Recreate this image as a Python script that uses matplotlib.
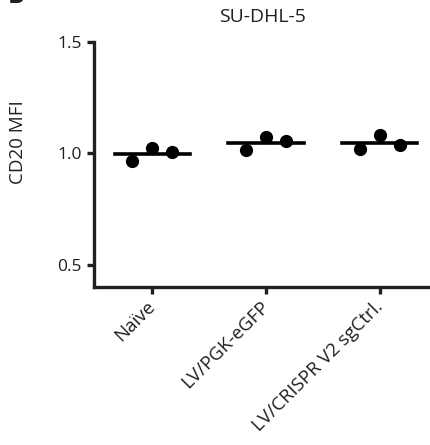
import numpy as np
import matplotlib.pyplot as plt

plt.rcParams['font.family'] = ['Open Sans', 'DejaVu Sans']

GROUPS = ['Naïve', 'LV/PGK-eGFP', 'LV/CRISPR V2 sgCtrl.']
REPLICATES = [
    [0.964, 1.022, 1.005],
    [1.013, 1.072, 1.054],
    [1.018, 1.081, 1.036],
]
OFFSETS = [-0.175, 0.0, 0.175]
INK = '#231f20'


def main():
    fig = plt.figure(figsize=(4.3, 4.45), dpi=100)
    # axes box placed to match the reference pixel layout
    ax = fig.add_axes([94 / 430, 1 - 287 / 445, 1 - 94 / 430, (287 - 42) / 445])

    for i, vals in enumerate(REPLICATES):
        xs = [i + o for o in OFFSETS]
        ax.plot(xs, vals, 'o', color='black', markersize=8.5, zorder=3)
        mean = np.mean(vals)
        ax.plot([i - 0.33, i + 0.33], [mean, mean], color='black', lw=2.6, zorder=2)

    ax.set_xlim(-0.51, 2.44)
    ax.set_ylim(0.4, 1.5)
    ax.set_yticks([0.5, 1.0, 1.5])
    ax.set_yticklabels(['0.5', '1.0', '1.5'], fontsize=12.5)
    ax.set_xticks(range(len(GROUPS)))
    ax.set_xticklabels(GROUPS, rotation=45, ha='right', va='center',
                       rotation_mode='anchor', fontsize=13.5)

    for side in ['top', 'right']:
        ax.spines[side].set_visible(False)
    for side in ['left', 'bottom']:
        ax.spines[side].set_linewidth(2.4)
        ax.spines[side].set_color(INK)
    ax.tick_params(width=2.4, length=5, color=INK, labelcolor=INK, pad=4)
    ax.tick_params(axis='x', pad=7)

    ax.set_ylabel('CD20 MFI', fontsize=13.5, color=INK)
    ax.yaxis.set_label_coords((27 - 94) / 336, (287 - 142) / 245)

    fig.text(262 / 430, 1 - 17 / 445, 'SU-DHL-5', ha='center', va='center',
             fontsize=14, color=INK)
    # panel letter, cut by the top edge as in the original figure
    fig.text(16 / 430, 1 + 4 / 445, 'B', ha='center', va='center',
             fontsize=18, fontweight='bold', color=INK)

    fig.savefig('out.png', dpi=100)


if __name__ == '__main__':
    main()
